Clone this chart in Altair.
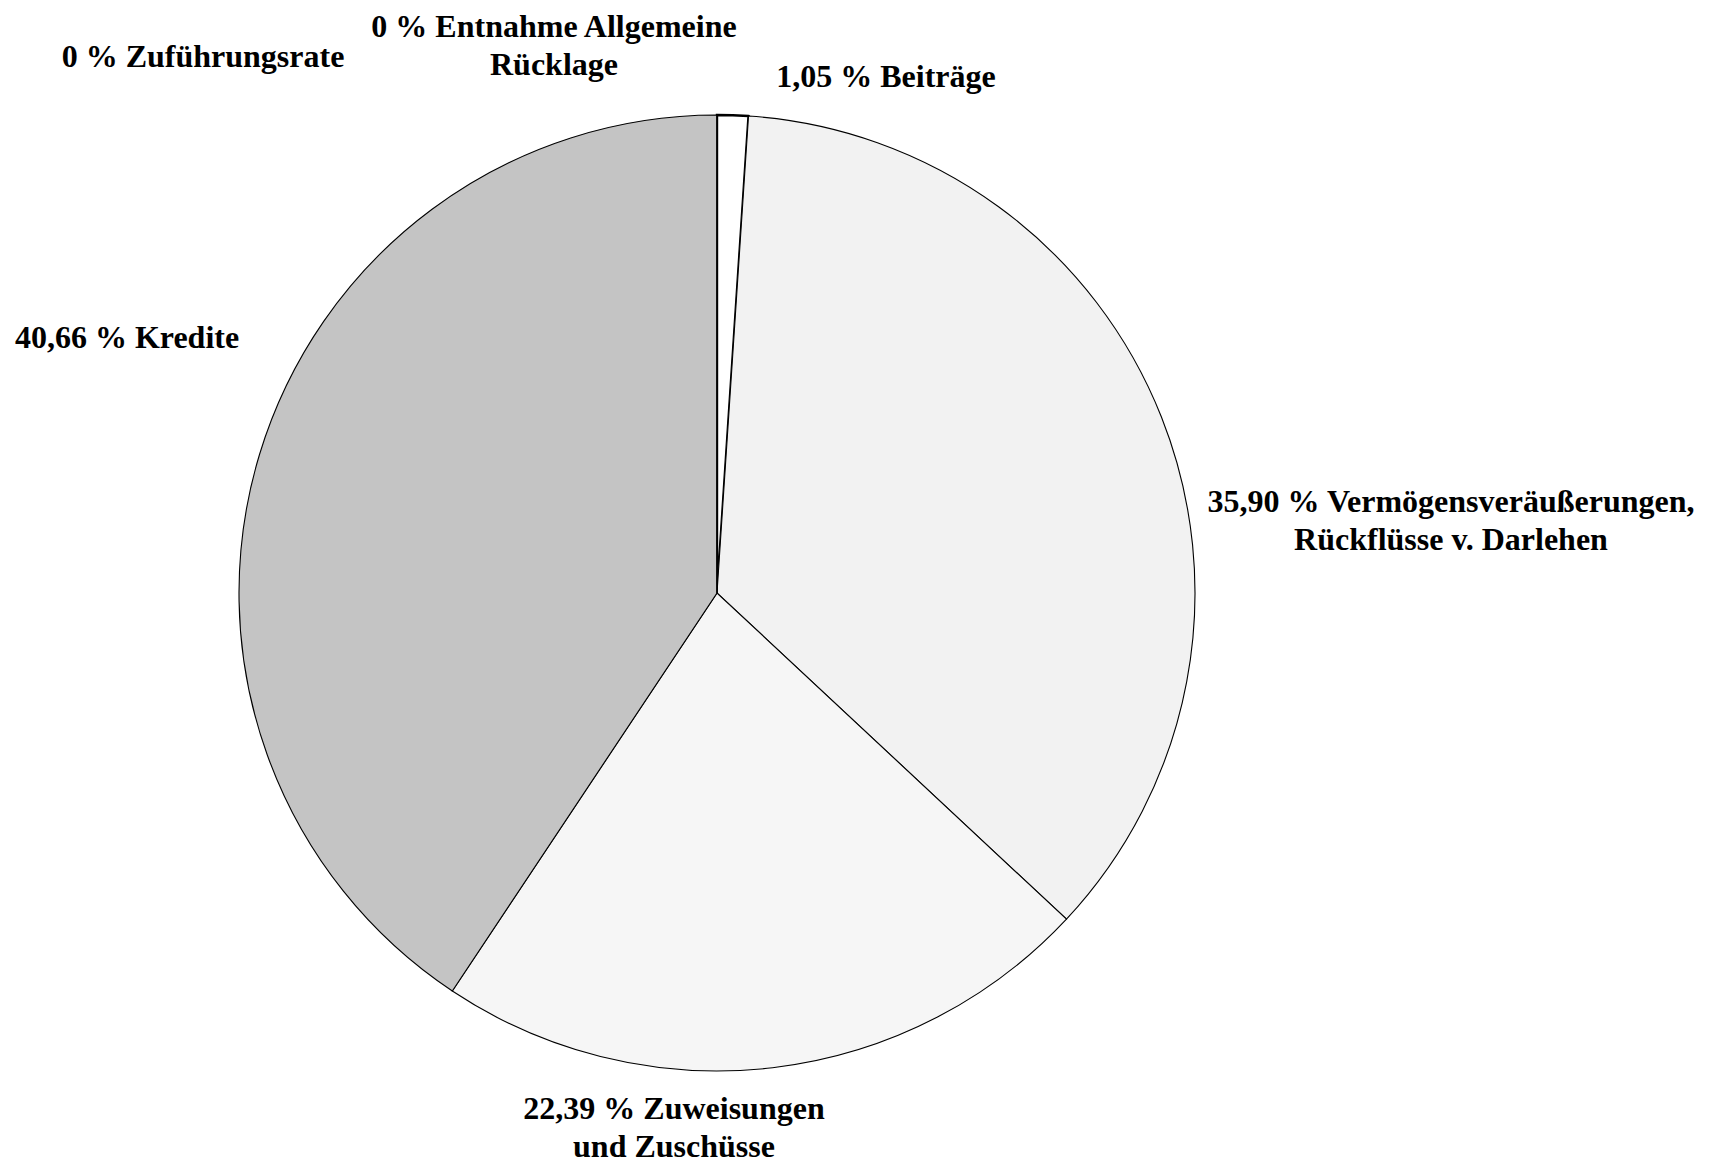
import altair as alt
import pandas as pd

# Data (clockwise from 12 o'clock)
names = ["Beiträge", "Vermögensveräußerungen,\nRückflüsse v. Darlehen", "Zuweisungen\nund Zuschüsse",
         "Kredite", "Entnahme Allgemeine\nRücklage", "Zuführungsrate"]
values = [1.05, 35.90, 22.39, 40.66, 0.0, 0.0]
colors = ["#ffffff", "#f2f2f2", "#f6f6f6", "#c4c4c4", "#ffffff", "#ffffff"]

def fmt(v):
    if v == 0:
        return "0 %"
    return f"{v:.2f}".replace(".", ",") + " %"

labels = [fmt(v) + " " + n for n, v in zip(names, values)]

df = pd.DataFrame({"name": names, "value": values, "order": list(range(len(names))), "label": labels})

# layout of labels (pixel positions of first line within the chart)
label_x = [878, 1443, 666, 119, 546, 195]
label_y = [69, 494, 1101, 330, 19, 49]
df["lx"] = label_x
df["ly"] = label_y

W, H = 1705, 1160
CX, CY, R = 709, 585, 478

base = alt.Chart(df)

pie = base.mark_arc(outerRadius=R, stroke="black").encode(
    theta=alt.Theta("value:Q", stack=True),
    order=alt.Order("order:Q"),
    color=alt.Color("name:N", scale=alt.Scale(domain=names, range=colors), legend=None),
    strokeWidth=alt.condition(alt.datum.name == "Beiträge", alt.value(2.4), alt.value(1.1)),
    x=alt.value(CX),
    y=alt.value(CY),
)

text = base.mark_text(
    font="Liberation Serif", fontWeight="bold", fontSize=32, align="center",
    baseline="middle", lineBreak="\n", lineHeight=38, color="black",
).encode(
    x=alt.X("lx:Q", scale=None),
    y=alt.Y("ly:Q", scale=None),
    text="label:N",
)

chart = alt.layer(pie, text).properties(
    width=W, height=H, autosize=alt.AutoSizeParams(type="none"), padding=0
).configure_view(stroke=None)

chart.save("out.html", embed_options={"renderer": "svg", "actions": False})
